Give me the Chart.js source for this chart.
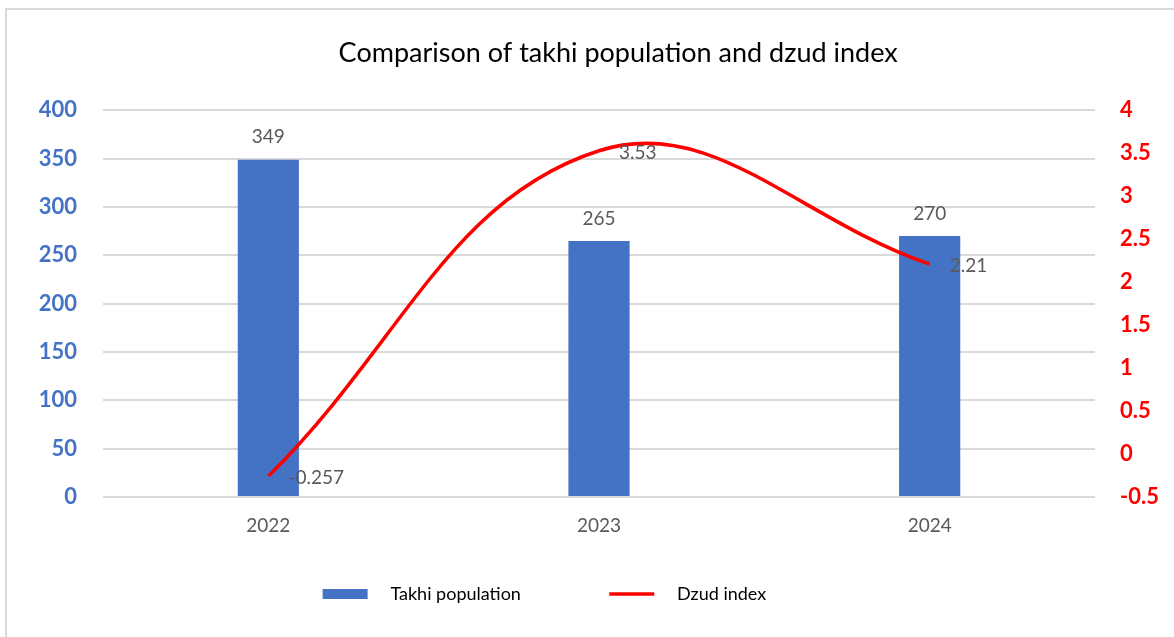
<!DOCTYPE html>
<html lang="en">
<head>
<meta charset="UTF-8">
<title>Comparison of takhi population and dzud index</title>
<script src="https://cdn.jsdelivr.net/npm/chart.js@4.4.1/dist/chart.umd.min.js"></script>
<style>
  html, body { margin: 0; padding: 0; background: #fff; overflow: hidden; }
  .frame { position: absolute; left: 5px; top: 8px; width: 1180px; height: 640px; border: 2px solid #d9d9d9; box-sizing: border-box; }
  .chart-box { position: absolute; left: 7px; top: 10px; width: 1167px; height: 627px; }
</style>
</head>
<body>
<div class="frame"></div>
<div class="chart-box"><canvas id="chart"></canvas></div>
<script>
const years = ['2022', '2023', '2024'];
const takhiPopulation = [349, 265, 270];
const dzudIndex = [-0.257, 3.53, 2.21];
const dzudLabels = ['-0.257', '3.53', '2.21'];

const FONT = 'Lato, "Open Sans", sans-serif';
const GRAY_TEXT = '#595959';

// value labels: above bars, right of the line points
const valueLabels = {
  id: 'valueLabels',
  afterDatasetsDraw(chart) {
    const ctx = chart.ctx;
    ctx.save();
    ctx.font = '19px ' + FONT;
    ctx.fillStyle = GRAY_TEXT;
    const bars = chart.getDatasetMeta(0).data;
    ctx.textAlign = 'center';
    ctx.textBaseline = 'bottom';
    bars.forEach((bar, i) => {
      ctx.fillText(String(takhiPopulation[i]), bar.x, bar.y - 13);
    });
    const pts = chart.getDatasetMeta(1).data;
    ctx.textAlign = 'left';
    ctx.textBaseline = 'middle';
    pts.forEach((p, i) => {
      ctx.fillText(dzudLabels[i], p.x + 20, p.y + 2);
    });
    ctx.restore();
  }
};

// spacing for legend entries (trailing spaces push the next entry along)
const legendText = ['   Takhi population' + ' '.repeat(17), '   Dzud index' + ' '.repeat(20)];

new Chart(document.getElementById('chart'), {
  type: 'bar',
  data: {
    labels: years,
    datasets: [
      {
        type: 'bar',
        label: 'Takhi population',
        data: takhiPopulation,
        backgroundColor: '#4472C4',
        borderWidth: 0,
        barPercentage: 0.185,
        categoryPercentage: 1,
        pointStyle: 'rect',
        yAxisID: 'y',
        order: 2
      },
      {
        type: 'line',
        label: 'Dzud index',
        data: dzudIndex,
        borderColor: '#FF0000',
        backgroundColor: '#FF0000',
        borderWidth: 3.5,
        tension: 0.4,
        pointRadius: 0,
        pointStyle: 'line',
        yAxisID: 'y1',
        order: 1
      }
    ]
  },
  options: {
    responsive: true,
    maintainAspectRatio: false,
    animation: false,
    layout: { padding: { left: 0, right: 0, top: 0, bottom: 24 } },
    plugins: {
      title: {
        display: true,
        text: '        Comparison of takhi population and dzud index',
        color: '#000',
        font: { family: FONT, size: 27, weight: 'normal' },
        padding: { top: 27, bottom: 41 }
      },
      legend: {
        position: 'bottom',
        labels: {
          usePointStyle: true,
          pointStyleWidth: 45,
          boxHeight: 10,
          color: '#000',
          font: { family: FONT, size: 18 },
          padding: 10,
          sort: (a, b) => a.datasetIndex - b.datasetIndex,
          generateLabels(chart) {
            const items = Chart.defaults.plugins.legend.labels.generateLabels(chart);
            items.forEach((it) => { it.text = legendText[it.datasetIndex]; });
            return items;
          }
        }
      },
      tooltip: { enabled: false }
    },
    scales: {
      x: {
        offset: true,
        grid: { display: false, drawTicks: false },
        border: { display: false },
        ticks: { color: GRAY_TEXT, font: { family: FONT, size: 19 }, padding: 17 },
        afterFit(scale) { scale.height = 78; }
      },
      y: {
        position: 'left',
        min: 0,
        max: 400,
        grid: { color: '#d9d9d9', lineWidth: 2, drawTicks: false },
        border: { display: false },
        ticks: { stepSize: 50, color: '#4472C4', font: { family: FONT, size: 22, weight: 'bold' }, padding: 26 },
        afterFit(scale) { scale.width = 96; }
      },
      y1: {
        position: 'right',
        min: -0.5,
        max: 4,
        grid: { drawOnChartArea: false, drawTicks: false },
        border: { display: false },
        ticks: {
          stepSize: 0.5,
          color: '#FF0000',
          font: { family: FONT, size: 22, weight: 'bold' },
          padding: 25,
          callback: (v) => String(Number(v.toFixed(1)))
        },
        afterFit(scale) { scale.width = 79; }
      }
    }
  },
  plugins: [valueLabels]
});
</script>
</body>
</html>
